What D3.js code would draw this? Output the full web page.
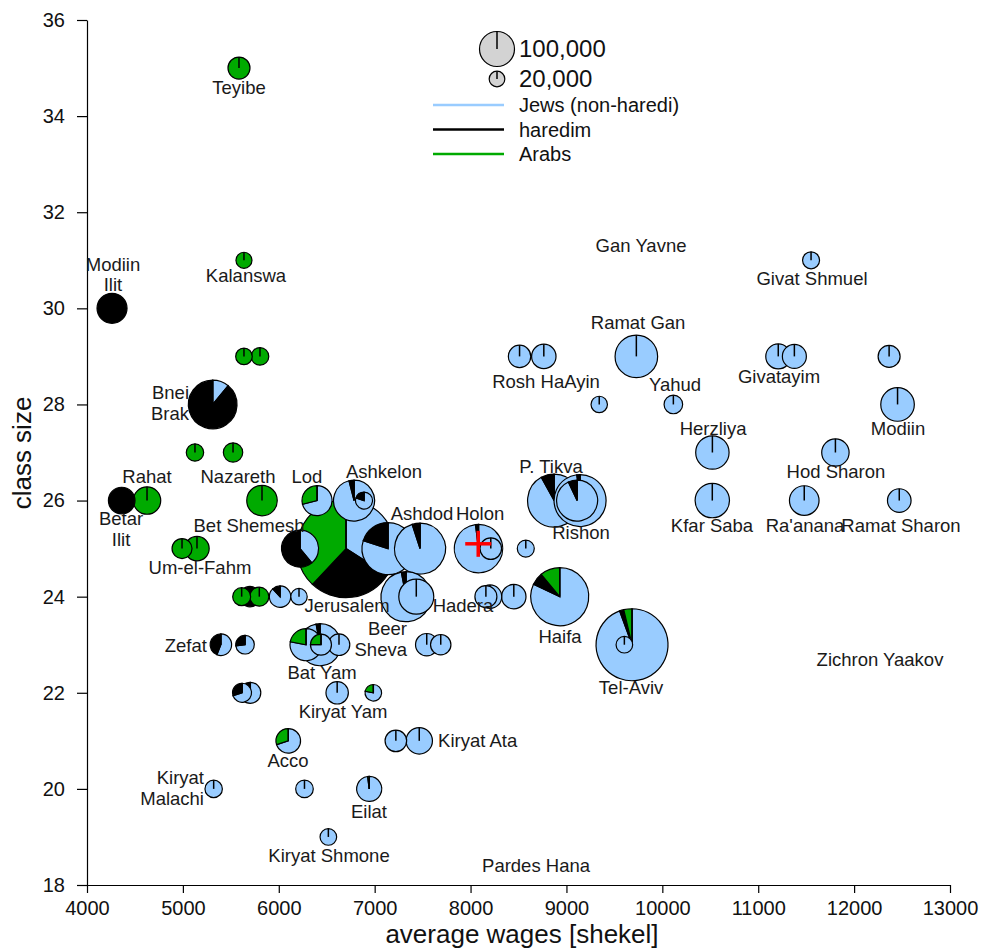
<!DOCTYPE html>
<meta charset="utf-8">
<style>
body { margin: 0; background: #fff; }
svg { font-family: "Liberation Sans", Arial, sans-serif; }
.axis path, .axis line { stroke: #000; stroke-width: 1.2px; }
.axis text { font-size: 20px; fill: #111; }
.slice { stroke: #000; stroke-width: 1.2px; }
.spoke { stroke: #000; stroke-width: 1.5px; }
.label { font-size: 18.5px; fill: #1a1a1a; }
.title { font-size: 26px; fill: #111; }
</style>
<svg width="983" height="948"></svg>
<script src="https://d3js.org/d3.v7.min.js"></script>
<script>

// one entry per town: average wage, class size, population, share of jews / haredim / arabs (%)
var wages = [6701, 9684, 8930, 8871, 9142, 7139, 7473, 7327, 5311, 8083,
             9729, 6430, 6785, 9111, 6222, 7434, 10521, 12453, 10522, 6284,
             5825, 4261, 6399, 11480, 4626, 11805, 4362, 7465, 6943, 11209,
             6099, 8451, 5147, 8764, 11377, 12471, 8203, 8160, 6609, 7543,
             8511, 5585, 12365, 8211, 5396, 6628, 7221, 6013, 5703, 6440,
             7689, 5700, 4991, 5523, 5617, 5797, 5648, 10115, 5613, 5804,
             6268, 5126, 5321, 6889, 8576, 11551, 5637, 9604, 6986, 6517,
             6211, 9342, 5637];
var classSize = [25, 23, 24, 26, 26, 25, 25, 24, 28, 25,
                 29, 23, 26, 26, 25, 24, 26, 28, 27, 23,
                 26, 30, 26, 26, 26, 27, 26, 21, 20, 29,
                 21, 24, 25, 29, 29, 26, 24, 24, 22, 23,
                 29, 35, 29, 25, 23, 23, 21, 24, 22, 23,
                 23, 24, 25, 27, 22, 24, 23, 28, 24, 29,
                 20, 27, 20, 26, 25, 31, 29, 23, 22, 19,
                 24, 28, 31];
var population = [785000, 423000, 275000, 229000, 221000, 221000, 212000, 204000, 193000, 191000,
                  148000, 144000, 137000, 137000, 112000, 100000, 96600, 92000, 91000, 83600,
                  76000, 73500, 73500, 71500, 61300, 61300, 57800, 56900, 51000, 51000,
                  49400, 48600, 48600, 48600, 47000, 45500, 44700, 39500, 41000, 41000,
                  41000, 39500, 39500, 38000, 38000, 38000, 38000, 37400, 36000, 36000,
                  34000, 34000, 32600, 30700, 29500, 29500, 28200, 28200, 26400, 25300,
                  25300, 24700, 24700, 23600, 23600, 23600, 22500, 22500, 22500, 22500,
                  22000, 22000, 21000];
var jews = [34, 94.4, 82, 92, 98, 80, 95, 97, 11, 98,
            100, 97, 96, 93, 39, 100, 100, 100, 100, 78,
            0, 0, 71, 100, 0, 100, 0, 100, 98, 100,
            70, 100, 0, 100, 100, 100, 100, 100, 100, 100,
            100, 0, 100, 100, 56, 100, 100, 88, 75, 75,
            100, 0, 0, 0, 70, 0, 73, 100, 0, 0,
            100, 0, 100, 80, 100, 100, 0, 100, 78, 100,
            100, 100, 0];
var haredim = [28, 1.9, 7, 8, 2, 20, 5, 3, 89, 2,
               0, 3, 4, 7, 61, 0, 0, 0, 0, 0,
               0, 100, 0, 0, 0, 0, 100, 0, 0, 0,
               0, 0, 0, 0, 0, 0, 0, 0, 0, 0,
               0, 0, 0, 0, 44, 0, 0, 12, 25, 0,
               0, 100, 0, 0, 30, 0, 27, 0, 0, 0,
               0, 0, 0, 20, 0, 0, 0, 0, 0, 0,
               0, 0, 0];
var arabs = [38, 3.7, 11, 0, 0, 0, 0, 0, 0, 0,
             0, 0, 0, 0, 0, 0, 0, 0, 0, 22,
             100, 0, 29, 0, 100, 0, 0, 0, 2, 0,
             30, 0, 100, 0, 0, 0, 0, 0, 0, 0,
             0, 100, 0, 0, 0, 0, 0, 0, 0, 25,
             0, 0, 100, 100, 0, 100, 0, 0, 100, 100,
             0, 100, 0, 0, 0, 0, 100, 0, 22, 0,
             0, 0, 100];

// town names, placed in data units (wage, class size)
var labelTexts = ["Teyibe", "Kalanswa", "Modiin\nIlit", "Bnei\nBrak", "Rahat", "Betar\nIlit", "Nazareth", "Lod",
                  "Ashkelon", "Ashdod", "Holon", "Bet Shemesh", "Um-el-Fahm", "Jerusalem", "Hadera", "Beer\nSheva",
                  "P. Tikva", "Rishon", "Haifa", "Tel-Aviv", "Zefat", "Bat Yam", "Kiryat Yam", "Acco",
                  "Kiryat Ata", "Kiryat\nMalachi", "Eilat", "Kiryat Shmone", "Pardes Hana", "Zichron Yaakov", "Gan Yavne", "Givat Shmuel",
                  "Ramat Gan", "Rosh HaAyin", "Yahud", "Givatayim", "Herzliya", "Modiin", "Hod Sharon", "Kfar Saba",
                  "Ra'anana", "Ramat Sharon"];
var labelWage = [5585, 5658, 4271, 5064, 4626, 4355, 5575, 6294,
                 7097, 7494, 8099, 5690, 5178, 6712, 7921, 7337,
                 8839, 9152, 8933, 9674, 5251, 6451, 6670, 6096,
                 7661, 5220, 6941, 6524, 8683, 12270, 9778, 11561,
                 9747, 8787, 10132, 11217, 10529, 12458, 11811, 10518,
                 11488, 12489];
var labelClass = [34.59, 30.69, 30.90, 28.22, 26.49, 25.60, 26.49, 26.49,
                  26.60, 25.72, 25.72, 25.49, 24.60, 23.81, 23.81, 23.31,
                  26.70, 25.33, 23.18, 22.10, 22.99, 22.43, 21.60, 20.60,
                  21.00, 20.21, 19.52, 18.61, 18.40, 22.70, 31.30, 30.61,
                  29.70, 28.47, 28.41, 28.59, 27.49, 27.49, 26.60, 25.49,
                  25.49, 25.49];
var labelAnchor = ["middle", "middle", "middle", "end", "middle", "middle", "middle", "middle",
                   "middle", "middle", "middle", "middle", "middle", "middle", "middle", "end",
                   "middle", "middle", "middle", "middle", "end", "middle", "middle", "middle",
                   "start", "end", "middle", "middle", "middle", "middle", "middle", "middle",
                   "middle", "middle", "middle", "middle", "middle", "middle", "middle", "middle",
                   "middle", "middle"];

var avgWage = 8080, avgClass = 25.1;

var xTicks = [4000, 5000, 6000, 7000, 8000, 9000, 10000, 11000, 12000, 13000];
var yTicks = [18, 20, 22, 24, 26, 28, 30, 32, 34, 36];
var groups = ["Jews (non-haredi)", "haredim", "Arabs"];
var legendSizes = [100000, 20000];
var legendSizeText = ["100,000", "20,000"];

var colors = ["#99ccff", "#000000", "#00aa00"];

var svg = d3.select("svg");

var x = d3.scaleLinear().domain([4000, 13000]).range([87, 950]),
    y = d3.scaleLinear().domain([18, 36]).range([885, 20]),
    r = d3.scaleSqrt().domain([0, 100000]).range([0, 17.5]);

svg.append("g")
    .attr("class", "axis")
    .attr("transform", "translate(0,885)")
    .call(d3.axisBottom(x).tickValues(xTicks).tickFormat(d3.format("d")).tickSize(8).tickSizeOuter(0).tickPadding(8));

svg.append("g")
    .attr("class", "axis")
    .attr("transform", "translate(87,0)")
    .call(d3.axisLeft(y).tickValues(yTicks).tickSize(10).tickSizeOuter(0).tickPadding(12));

svg.append("text")
    .attr("class", "title")
    .attr("x", 522)
    .attr("y", 943)
    .attr("text-anchor", "middle")
    .text("average wages [shekel]");

svg.append("text")
    .attr("class", "title")
    .attr("transform", "translate(31,453) rotate(-90)")
    .attr("text-anchor", "middle")
    .text("class size");

var pie = d3.pie().sort(null).value(function(d) { return d; });
var arc = d3.arc().innerRadius(0);

// bigger towns first so the small ones stay on top
var order = d3.range(wages.length).sort(function(a, b) { return population[b] - population[a]; });

var towns = svg.append("g").selectAll("g")
    .data(order)
  .enter().append("g")
    .attr("transform", function(i) { return "translate(" + x(wages[i]) + "," + y(classSize[i]) + ")"; });

towns.each(function(i) {
  var g = d3.select(this),
      rad = r(population[i]);
  var slices = pie([jews[i], haredim[i], arabs[i]]).filter(function(d) { return d.value > 0; });
  g.selectAll("path")
      .data(slices)
    .enter().append("path")
      .attr("class", "slice")
      .attr("fill", function(d) { return colors[d.index]; })
      .attr("d", function(d) { return arc.outerRadius(rad)(d); });
  g.append("line")
      .attr("class", "spoke")
      .attr("x1", 0).attr("y1", 0)
      .attr("x2", 0).attr("y2", -rad);
});

// national average
var cross = svg.append("g")
    .attr("transform", "translate(" + x(avgWage) + "," + y(avgClass) + ")")
    .attr("stroke", "#ff0000")
    .attr("stroke-width", 3.5);
cross.append("line").attr("x1", -13).attr("x2", 13).attr("y1", 0).attr("y2", 0);
cross.append("line").attr("x1", 0).attr("x2", 0).attr("y1", -13).attr("y2", 13);

var labels = svg.append("g").selectAll("text")
    .data(labelTexts)
  .enter().append("text")
    .attr("class", "label")
    .attr("text-anchor", function(d, i) { return labelAnchor[i]; })
    .attr("x", function(d, i) { return x(labelWage[i]); })
    .attr("y", function(d, i) { return y(labelClass[i]); });

labels.each(function(d, i) {
  var t = d3.select(this),
      lines = d.split("\n");
  lines.forEach(function(line, k) {
    t.append("tspan")
        .attr("x", x(labelWage[i]))
        .attr("dy", k == 0 ? (lines.length > 1 ? "0.3em" : "0.35em") : "1.1em")
        .text(line);
  });
});

// legend
var legend = svg.append("g");

legendSizes.forEach(function(p, k) {
  var cy = k == 0 ? 49 : 79;
  legend.append("circle")
      .attr("cx", 497).attr("cy", cy)
      .attr("r", r(p))
      .attr("fill", "#d3d3d3")
      .attr("stroke", "#000")
      .attr("stroke-width", 1.2);
  legend.append("line")
      .attr("class", "spoke")
      .attr("x1", 497).attr("y1", cy)
      .attr("x2", 497).attr("y2", cy - r(p));
  legend.append("text")
      .attr("x", 519).attr("y", cy)
      .attr("dy", "0.35em")
      .style("font-size", "24px")
      .attr("fill", "#111")
      .text(legendSizeText[k]);
});

groups.forEach(function(name, k) {
  var ly = 105 + k * 24.5;
  legend.append("line")
      .attr("x1", 433).attr("x2", 504)
      .attr("y1", ly).attr("y2", ly)
      .attr("stroke", colors[k])
      .attr("stroke-width", 2.5);
  legend.append("text")
      .attr("x", 519).attr("y", ly)
      .attr("dy", "0.35em")
      .style("font-size", "20px")
      .attr("fill", "#111")
      .text(name);
});

</script>
